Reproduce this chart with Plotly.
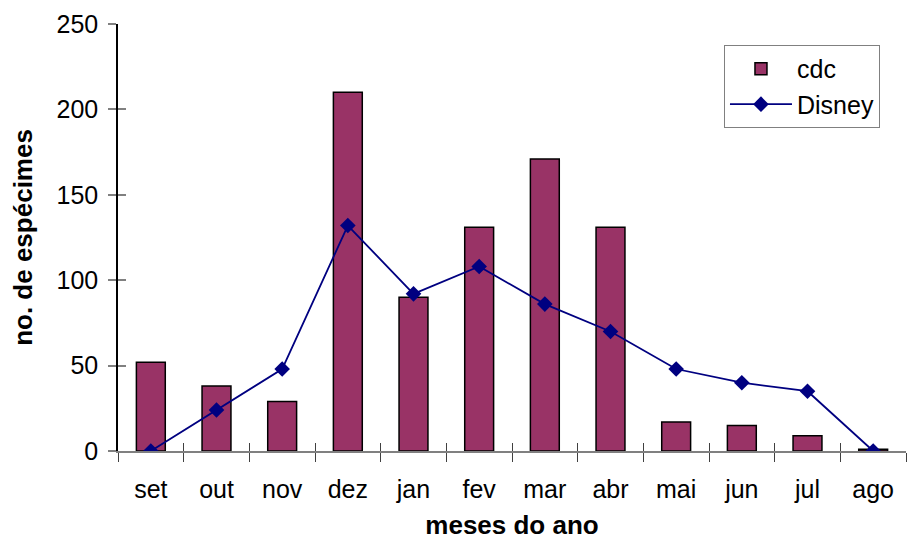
import plotly.graph_objects as go

# Monthly specimen counts
months = ["set", "out", "nov", "dez", "jan", "fev", "mar", "abr", "mai", "jun", "jul", "ago"]
cdc = [52, 38, 29, 210, 90, 131, 171, 131, 17, 15, 9, 1]
disney = [0, 24, 48, 132, 92, 108, 86, 70, 48, 40, 35, 0]
y_ticks = [0, 50, 100, 150, 200, 250]

FONT = "Liberation Sans, Arial, sans-serif"

fig = go.Figure()
fig.add_trace(go.Bar(
    x=months, y=cdc, name="cdc",
    marker=dict(color="#993366", line=dict(color="black", width=1.5)),
    width=0.44,
))
fig.add_trace(go.Scatter(
    x=months, y=disney, name="Disney", mode="lines+markers",
    line=dict(color="#000080", width=1.8),
    marker=dict(symbol="diamond", size=12, color="#000080"),
))
# invisible trace to anchor the secondary (inside-tick) axes
fig.add_trace(go.Scatter(x=months, y=disney, xaxis="x2", yaxis="y2",
                         mode="markers", marker=dict(opacity=0),
                         showlegend=False, hoverinfo="skip"))

fig.update_layout(
    width=910, height=540,
    margin=dict(l=118, r=4, t=24, b=89),
    plot_bgcolor="white", paper_bgcolor="white",
    font=dict(family=FONT, size=25, color="black"),
    showlegend=True,
    legend=dict(x=0.769, y=0.951, xanchor="left", yanchor="top",
                bordercolor="#808080", borderwidth=1,
                font=dict(size=25), bgcolor="white", itemwidth=62),
    xaxis=dict(
        categoryorder="array", categoryarray=months, automargin=False,
        range=[-0.5, 11.5], showline=True, linecolor="#808080", linewidth=1.5,
        ticks="outside", ticklen=9, tickcolor="#404040", tickwidth=1,
        tickson="boundaries", showgrid=False, zeroline=False,
        ticklabelstandoff=15,
        title=dict(text="<b>meses do ano</b>", standoff=18, font=dict(size=26)),
    ),
    yaxis=dict(
        range=[0, 250], tickvals=y_ticks, showline=True, linecolor="black",
        linewidth=1.5, ticks="outside", ticklen=8, tickcolor="#808080",
        tickwidth=1.5, showgrid=False, zeroline=False, ticklabelstandoff=5,
        automargin=False,
        title=dict(text="<b>no. de espécimes</b>", standoff=16, font=dict(size=26)),
    ),
    xaxis2=dict(
        overlaying="x", matches="x", categoryorder="array", categoryarray=months,
        ticks="inside", ticklen=8, tickcolor="#404040", tickwidth=1,
        tickson="boundaries", showticklabels=False, showgrid=False,
        zeroline=False, showline=False,
    ),
    yaxis2=dict(
        overlaying="y", range=[0, 250], tickvals=y_ticks, ticks="inside",
        ticklen=8, tickcolor="#808080", tickwidth=1.5, showticklabels=False,
        showgrid=False, zeroline=False, showline=False,
    ),
)

fig.write_html("out.html")
